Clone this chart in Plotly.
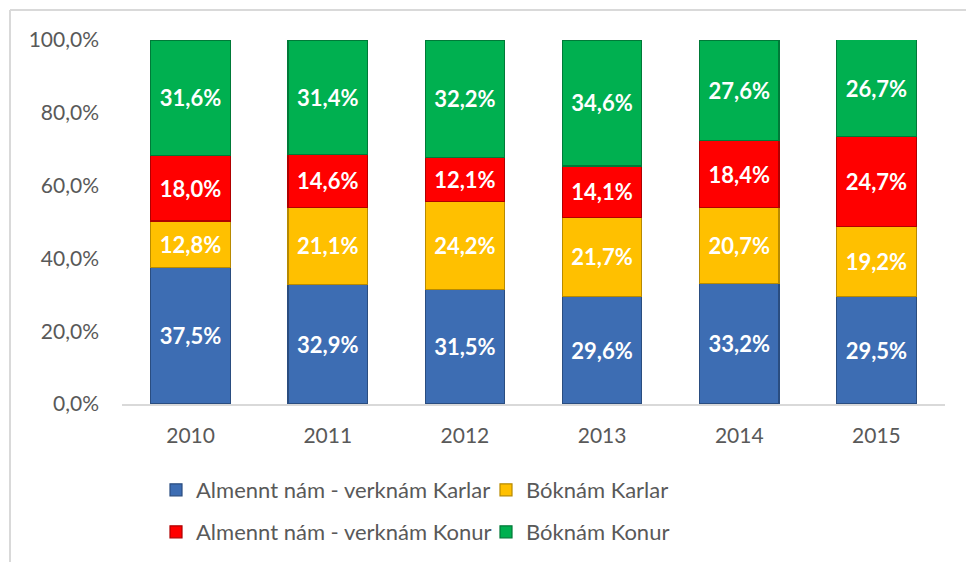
import plotly.graph_objects as go

years = ["2010", "2011", "2012", "2013", "2014", "2015"]
almennt_karlar = [37.5, 32.9, 31.5, 29.6, 33.2, 29.5]
boknam_karlar = [12.8, 21.1, 24.2, 21.7, 20.7, 19.2]
almennt_konur = [18.0, 14.6, 12.1, 14.1, 18.4, 24.7]
boknam_konur = [31.6, 31.4, 32.2, 34.6, 27.6, 26.7]
series_names = ["Almennt nám - verknám Karlar", "Bóknám Karlar",
                "Almennt nám - verknám Konur", "Bóknám Konur"]
y_tickvals = [0, 20, 40, 60, 80, 100]
y_ticktext = ["0,0%", "20,0%", "40,0%", "60,0%", "80,0%", "100,0%"]

colors = ["#3D6DB3", "#FFC000", "#FF0000", "#00B050"]
edges = ["#2A4D80", "#B88A00", "#B00000", "#007A38"]
legends = ["legend", "legend", "legend2", "legend2"]
series = [almennt_karlar, boknam_karlar, almennt_konur, boknam_konur]

FONT = "Lato, Calibri, sans-serif"

fig = go.Figure()
for name, vals, c, e, lg in zip(series_names, series, colors, edges, legends):
    fig.add_trace(go.Bar(
        x=years, y=vals, name=name,
        marker=dict(color=c, line=dict(color=e, width=1.2)),
        text=[f"{v:.1f}%".replace(".", ",") for v in vals],
        textposition="inside", insidetextanchor="middle",
        textfont=dict(color="white", size=22, family=FONT, weight="bold"),
        hoverinfo="skip", legend=lg,
    ))

L, R, T, B = 122, 21, 40, 158
W, H = 966, 562
pw, ph = W - L - R, H - T - B
def px(x): return (x - L) / pw
def py(y): return (H - B - y) / ph

legend_font = dict(size=22, color="#595959", family=FONT)

fig.update_layout(
    width=W, height=H, barmode="stack", bargap=0.42,
    margin=dict(l=L, r=R, t=T, b=B, autoexpand=False),
    paper_bgcolor="white", plot_bgcolor="white",
    font=dict(family=FONT, color="#595959", size=21),
    xaxis=dict(showgrid=False, showline=True, linecolor="#D9D9D9", linewidth=1.5,
               ticks="", tickfont=dict(size=21), ticklabelstandoff=12, fixedrange=True),
    yaxis=dict(range=[0, 100], tickvals=y_tickvals, ticktext=y_ticktext,
               showgrid=False, showline=False, zeroline=False, ticks="",
               tickfont=dict(size=21), ticklabelstandoff=22, fixedrange=True),
    legend=dict(orientation="h", x=px(156), xanchor="left", y=py(490), yanchor="middle",
                entrywidth=285, font=legend_font, traceorder="normal",
                bgcolor="rgba(0,0,0,0)"),
    legend2=dict(orientation="h", x=px(156), xanchor="left", y=py(532), yanchor="middle",
                 entrywidth=285, font=legend_font, traceorder="normal",
                 bgcolor="rgba(0,0,0,0)"),
    shapes=[
        dict(type="line", xref="paper", yref="paper", x0=px(10), x1=px(10), y0=py(10), y1=py(600),
             line=dict(color="#D9D9D9", width=2)),
        dict(type="line", xref="paper", yref="paper", x0=px(10), x1=px(1000), y0=py(10), y1=py(10),
             line=dict(color="#D9D9D9", width=2)),
    ],
    showlegend=True,
)

fig.write_html("out.html", config={"displayModeBar": False},
               post_script="document.body.style.margin='0';document.body.style.overflow='hidden';")
